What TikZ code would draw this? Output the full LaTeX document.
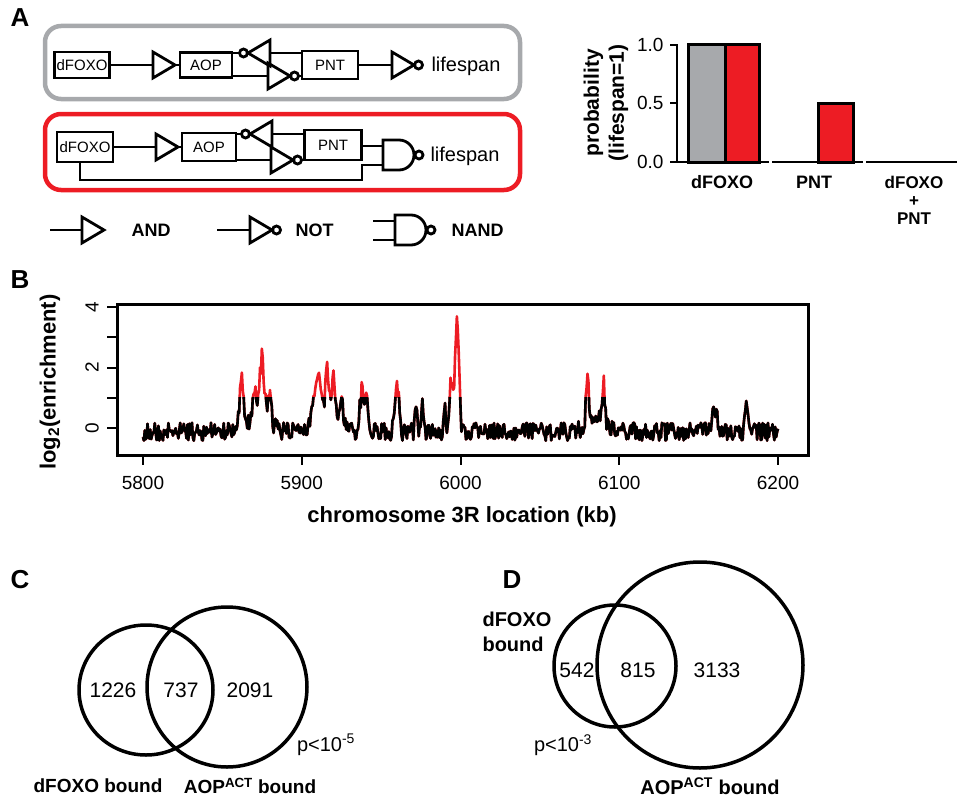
\documentclass[tikz,border=0pt]{standalone}
\usepackage{fontspec}
\setmainfont{Liberation Sans}
\definecolor{figred}{HTML}{ED1C24}
\definecolor{figgray}{HTML}{A7A9AC}
\tikzset{
  buf/.pic={\draw[line width=2.8pt, line join=miter] (0,-13)--(22,0)--(0,13)--cycle;
    \coordinate (-in) at (0,0); \coordinate (-out) at (22,0);},
  notg/.pic={\draw[line width=2.8pt] (0,-13)--(22,0)--(0,13)--cycle;
    \draw[line width=2.8pt] (26.5,0) circle (4);
    \coordinate (-in) at (0,0); \coordinate (-out) at (30.5,0);},
  nandg/.pic={\draw[line width=2.8pt] (0,-15)--(16,-15) arc(-90:90:15)--(0,15)--cycle;
    \draw[line width=2.8pt] (36,0) circle (4);
    \coordinate (-a) at (0,-9); \coordinate (-b) at (0,10); \coordinate (-out) at (40,0);}
}
\begin{document}
\begin{tikzpicture}[x=1pt,y=-1pt,
    gene/.style={draw, line width=2.8pt, inner sep=0pt, font=\fontsize{15}{15}\selectfont},
    wire/.style={line width=2.8pt},
    panel/.style={font=\fontsize{26}{26}\selectfont\bfseries},
    lbl/.style={font=\fontsize{18}{20}\selectfont\bfseries},
    num/.style={font=\fontsize{21}{21}\selectfont},
    declare function={pk(\t,\c,\w,\h)=\h*max(0,1-abs(\t-\c)/\w);}
  ]
  \useasboundingbox (0,0) rectangle (963,800);

  % panel A: circuits
  \node[panel] (la) at (20,18) {A};
  \draw[figgray, line width=4.5pt, rounded corners=16pt] (45,26) rectangle (520,99);
  \draw[figred, line width=4.5pt, rounded corners=16pt] (45,114) rectangle (520,190);

  \node[gene, minimum width=55pt, minimum height=26pt] (fox1) at (82,65) {dFOXO};
  \node[gene, minimum width=52pt, minimum height=25pt] (aop1) at (206,65) {AOP};
  \node[gene, minimum width=56pt, minimum height=28pt] (pnt1) at (330,65) {PNT};
  \pic (and1) at (153,65) {buf};
  \pic[xscale=-1] (fb1) at (270,53) {notg};
  \pic (nt1) at (268,76) {notg};
  \pic (out1) at (392,65) {notg};
  \node[anchor=west, font=\fontsize{20}{20}\selectfont] (life1) at (428,66) {lifespan};
  \draw[wire] (fox1) -- (and1-in) (and1-out) -- (aop1);
  \draw[wire] (pnt1.west |- fb1-in) -- (fb1-in) (fb1-out) -- (aop1.east |- fb1-out);
  \draw[wire] (aop1.east |- nt1-in) -- (nt1-in) (nt1-out) -- (pnt1.west |- nt1-out);
  \draw[wire] (pnt1) -- (out1-in);

  \node[gene, minimum width=56pt, minimum height=30pt] (fox2) at (85,147) {dFOXO};
  \node[gene, minimum width=54pt, minimum height=28pt] (aop2) at (209,147) {AOP};
  \node[gene, minimum width=57pt, minimum height=30pt] (pnt2) at (333,145) {PNT};
  \pic (and2) at (156,147) {buf};
  \pic[xscale=-1] (fb2) at (272,134) {notg};
  \pic (nt2) at (271,160) {notg};
  \pic (gate2) at (383,155) {nandg};
  \node[anchor=west, font=\fontsize{20}{20}\selectfont] (life2) at (427,156) {lifespan};
  \draw[wire] (fox2) -- (and2-in) (and2-out) -- (aop2);
  \draw[wire] (pnt2.west |- fb2-in) -- (fb2-in) (fb2-out) -- (aop2.east |- fb2-out);
  \draw[wire] (aop2.east |- nt2-in) -- (nt2-in) (nt2-out) -- (pnt2.west |- nt2-out);
  \draw[wire] (pnt2.east |- gate2-a) -- (gate2-a);
  \draw[wire] (fox2.south -| 80,0) -- (80,180) -- (362,180) -- (362,165) -- (gate2-b);

  % legend
  \coordinate (l1) at (50,230);
  \pic (lg1) at (82,230) {buf};
  \draw[wire] (l1) -- (lg1-in);
  \node[lbl, anchor=west] (land) at (128,230) {AND};
  \coordinate (l2) at (217,230);
  \pic (lg2) at (250,230) {notg};
  \draw[wire] (l2) -- (lg2-in);
  \node[lbl, anchor=west] (lnot) at (292,230) {NOT};
  \pic (lg3) at (395,230) {nandg};
  \draw[wire] (373,221) -- (lg3-a) (373,240) -- (lg3-b);
  \node[lbl, anchor=west] (lnand) at (448,230) {NAND};

  % panel A: bar chart
  \draw[line width=3pt, fill=figgray] (688,45) rectangle (725,162);
  \draw[line width=3pt, fill=figred] (725,45) rectangle (759,162);
  \draw[line width=3pt, fill=figred] (818,103) rectangle (853,162);
  \draw[line width=2.5pt] (670,45) -- (677,45) -- (677,162) -- (769,162);
  \draw[line width=2.5pt] (670,103) -- (677,103) (670,162) -- (677,162);
  \draw[line width=2.5pt] (772,162) -- (863,162) (866,162) -- (957,162);
  \foreach \v/\yy in {1.0/45, 0.5/103, 0.0/162}
    \node[anchor=east, font=\fontsize{19}{19}\selectfont] at (667,\yy) {\v};
  \node[lbl, rotate=90, align=center, font=\fontsize{21}{25}\selectfont\bfseries] (yl) at (606,103) {probability\\(lifespan=1)};
  \node[lbl] (b1) at (722,182) {dFOXO};
  \node[lbl] (b2) at (814,182) {PNT};
  \node[lbl, align=center, font=\fontsize{17}{18}\selectfont\bfseries] (b3) at (914,200) {dFOXO\\+\\PNT};

  % panel B
  \node[panel] (lb) at (20,280) {B};
  \def\sig{-0.12+0.3*rand
    +pk(\x,62,2.5,1.9)+pk(\x,70,2,1.2)+pk(\x,75,3,2.0)+pk(\x,80,2,1.3)+pk(\x,74,12,0.7)
    +pk(\x,116,14,1.1)+pk(\x,108,3,0.9)+pk(\x,111,3,1.2)+pk(\x,116,2,1.0)+pk(\x,120,2,1.1)+pk(\x,125,2,0.9)
    +pk(\x,138,3,1.5)+pk(\x,141,2,1.3)+pk(\x,160,3,1.7)+pk(\x,172,1.5,0.8)+pk(\x,176,1.5,0.9)
    +pk(\x,190,1.5,1.0)+pk(\x,194,2,1.3)+pk(\x,198,2.5,3.4)+pk(\x,196,5,0.9)
    +pk(\x,280,2,1.6)+pk(\x,285,12,0.5)+pk(\x,290,2,1.5)+pk(\x,360,3,0.9)+pk(\x,380,2,0.8)}
  \pgfmathsetseed{17}
  \draw[figred, line width=2.6pt, line join=round]
    plot[domain=0:400, samples=701] ({143+1.5875*\x},{428-30.25*(\sig)});
  \begin{scope}
    \clip (117,397.75) rectangle (808,455);
    \pgfmathsetseed{17}
    \draw[black, line width=2.6pt, line join=round]
      plot[domain=0:400, samples=701] ({143+1.5875*\x},{428-30.25*(\sig)});
  \end{scope}
  \draw[line width=3pt] (117,304) rectangle (808,455);
  \foreach \v in {0,...,4}
    \draw[line width=2pt] (107,428-30.25*\v) -- (117,428-30.25*\v);
  \foreach \v in {0,2,4}
    \node[rotate=90, font=\fontsize{19}{19}\selectfont] at (92,428-30.25*\v) {\v};
  \foreach \k in {0,...,4} {
    \draw[line width=2pt] (143+158.75*\k,455) -- (143+158.75*\k,465);
    \pgfmathtruncatemacro{\kb}{5800+100*\k}
    \node[font=\fontsize{19}{19}\selectfont] at (143+158.75*\k,483) {\kb};
  }
  \node[lbl, rotate=90, font=\fontsize{22}{22}\selectfont\bfseries] (ylb) at (50,382) {log\textsubscript{2}(enrichment)};
  \node[lbl, font=\fontsize{22}{22}\selectfont\bfseries] (xlb) at (462,517) {chromosome 3R location (kb)};

  % panel C
  \node[panel] (lc) at (20,580) {C};
  \draw[line width=3.5pt] (146,690) ellipse (67 and 65);
  \draw[line width=3.5pt] (227,687) ellipse (80 and 80);
  \node[num] (c1) at (113,690) {1226};
  \node[num] (c2) at (181,690) {737};
  \node[num] (c3) at (250,690) {2091};
  \node[font=\fontsize{20}{20}\selectfont] (cp) at (326,745) {p<10\textsuperscript{-5}};
  \node[lbl, font=\fontsize{19}{19}\selectfont\bfseries] (cf) at (98,786) {dFOXO bound};
  \node[lbl, font=\fontsize{19}{19}\selectfont\bfseries] (ca) at (250,786) {AOP\textsuperscript{ACT} bound};

  % panel D
  \node[panel] (ld) at (512,580) {D};
  \draw[line width=3.5pt] (615,666) ellipse (61 and 61);
  \draw[line width=3.5pt] (700,665) ellipse (103 and 103);
  \node[num] (d1) at (577,670) {542};
  \node[num] (d2) at (638,670) {815};
  \node[num] (d3) at (717,670) {3133};
  \node[font=\fontsize{20}{20}\selectfont] (dp) at (563,745) {p<10\textsuperscript{-3}};
  \node[lbl, font=\fontsize{20}{25}\selectfont\bfseries, align=left, anchor=west] (df) at (479,632) {dFOXO\\bound};
  \node[lbl, font=\fontsize{20}{20}\selectfont\bfseries] (da) at (710,786) {AOP\textsuperscript{ACT} bound};
\end{tikzpicture}
\end{document}
